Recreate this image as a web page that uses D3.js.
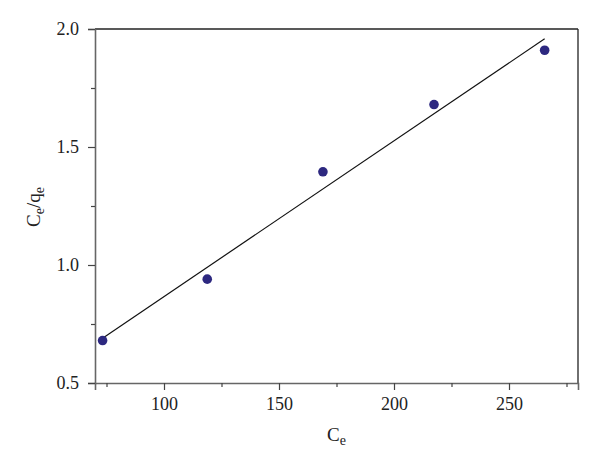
<!DOCTYPE html>
<html>
<head>
<meta charset="utf-8">
<script src="https://cdn.jsdelivr.net/npm/d3@7"></script>
<style>
  body { margin: 0; background: #fff; }
  svg text { font-family: "Liberation Serif", "DejaVu Serif", serif; }
</style>
</head>
<body>
<div id="chart"></div>
<script>
'use strict'
// data
var ceValues = [73.3, 118.8, 169.1, 217.4, 265.5];
var ratioValues = [0.68, 0.94, 1.395, 1.68, 1.91];
var fitSlope = 0.0066;
var fitIntercept = 0.2062;
var xTicks = [100, 150, 200, 250];
var xMinorTicks = [75, 125, 175, 225, 275];
var yTicks = [0.5, 1.0, 1.5, 2.0];
var yMinorTicks = [0.75, 1.25, 1.75];

var width = 600, height = 468;
var margin = {top: 29, right: 22, bottom: 85, left: 95};
var serif = "'Liberation Serif', 'DejaVu Serif', serif";

var svg = d3.select("#chart").append("svg")
    .attr("width", width)
    .attr("height", height);

var x = d3.scaleLinear().domain([70, 280]).range([margin.left, width - margin.right]);
var y = d3.scaleLinear().domain([0.5, 2.0]).range([height - margin.bottom, margin.top]);

//frame: top and right
svg.append("line")
    .attr("x1", x(70)).attr("x2", x(280))
    .attr("y1", y(2.0)).attr("y2", y(2.0))
    .attr("stroke", "#222").attr("stroke-width", 1.3);
svg.append("line")
    .attr("x1", x(280)).attr("x2", x(280))
    .attr("y1", y(2.0)).attr("y2", y(0.5))
    .attr("stroke", "#222").attr("stroke-width", 1.3);

//bottom axis
svg.append("g")
    .attr("transform", "translate(0," + y(0.5) + ")")
    .call(d3.axisBottom(x).tickValues(xTicks).tickSize(7).tickPadding(7).tickFormat(d3.format("d")));
svg.append("g")
    .attr("transform", "translate(0," + y(0.5) + ")")
    .call(d3.axisBottom(x).tickValues(xMinorTicks).tickSize(4).tickFormat(""))
    .select(".domain").remove();

//left axis
svg.append("g")
    .attr("transform", "translate(" + x(70) + ",0)")
    .call(d3.axisLeft(y).tickValues(yTicks).tickSize(7).tickPadding(9).tickFormat(d3.format(".1f")));
svg.append("g")
    .attr("transform", "translate(" + x(70) + ",0)")
    .call(d3.axisLeft(y).tickValues(yMinorTicks).tickSize(4).tickFormat(""))
    .select(".domain").remove();

svg.selectAll(".domain").attr("stroke", "#666").attr("stroke-width", 1.6);
svg.selectAll(".tick line").attr("stroke", "#444").attr("stroke-width", 1.2);
svg.selectAll(".tick text")
    .attr("fill", "#222")
    .style("font-family", serif)
    .style("font-size", "18px");

//fitted line
var xExtent = d3.extent(ceValues);
svg.append("line")
    .attr("x1", x(xExtent[0])).attr("y1", y(fitSlope * xExtent[0] + fitIntercept))
    .attr("x2", x(xExtent[1])).attr("y2", y(fitSlope * xExtent[1] + fitIntercept))
    .attr("stroke", "#111").attr("stroke-width", 1.2);

//data points
svg.append("g").selectAll("circle")
    .data(ceValues)
    .enter()
    .append("circle")
    .attr("cx", function(d) { return x(d); })
    .attr("cy", function(d, i) { return y(ratioValues[i]); })
    .attr("r", 4.8)
    .style("fill", "#2d2880");

//axis titles
var xLabel = svg.append("text")
    .attr("x", 327).attr("y", 441)
    .style("font-family", serif).style("font-size", "19px").attr("fill", "#222");
xLabel.append("tspan").text("C");
xLabel.append("tspan").style("font-size", "14px").attr("dy", 4).text("e");

var yLabel = svg.append("text")
    .attr("transform", "translate(40,207) rotate(-90)")
    .attr("text-anchor", "middle")
    .style("font-family", serif).style("font-size", "19px").attr("fill", "#222");
yLabel.append("tspan").text("C");
yLabel.append("tspan").style("font-size", "14px").attr("dy", 4).text("e");
yLabel.append("tspan").attr("dy", -4).text("/q");
yLabel.append("tspan").style("font-size", "14px").attr("dy", 4).text("e");
</script>
</body>
</html>
